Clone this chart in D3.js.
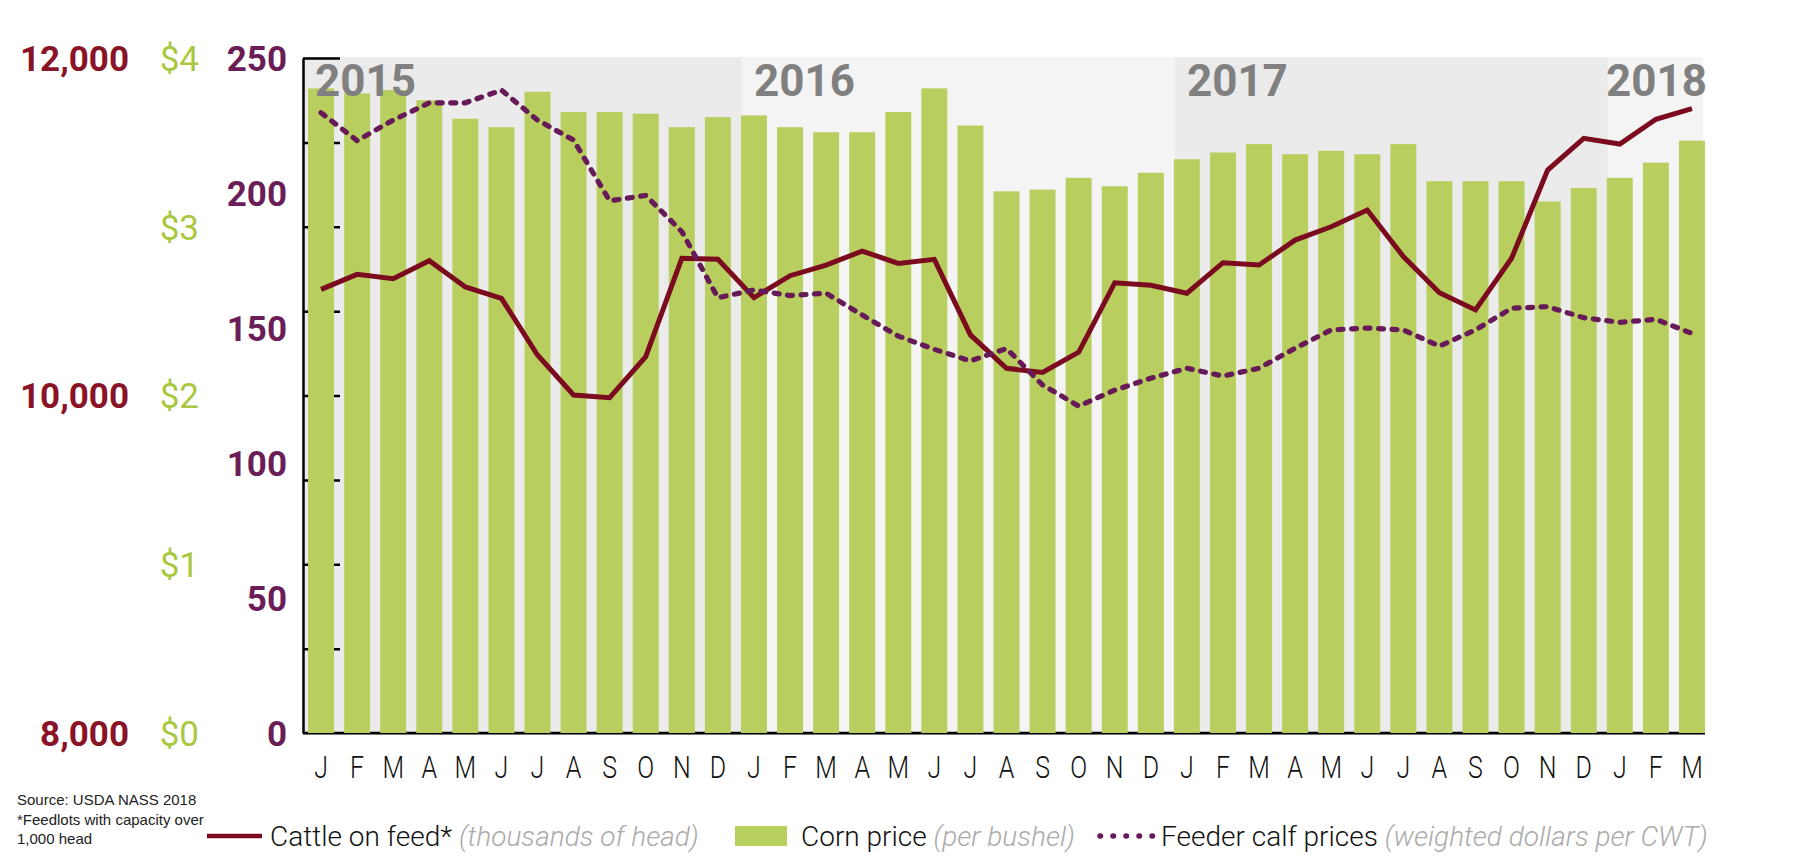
<html>

<head>
    <meta charset="UTF-8">
    <script src="https://d3js.org/d3.v7.min.js"></script>
    <title>Cattle on feed</title>
    <style>
        body { margin: 0; background: white; }
    </style>
</head>

<body>
    <svg id="chart" width="1820" height="865"></svg>

    <script>
        // måneder fra jan 2015 til marts 2018
        const months = ["J","F","M","A","M","J","J","A","S","O","N","D",
                        "J","F","M","A","M","J","J","A","S","O","N","D",
                        "J","F","M","A","M","J","J","A","S","O","N","D",
                        "J","F","M"];
        const years = ["2015", "2016", "2017", "2018"];
        const yearStart = [0, 12, 24, 36];  // index i months

        // majspris, dollar per bushel
        const cornPrice = [3.82, 3.79, 3.81, 3.75, 3.64, 3.59, 3.80, 3.68, 3.68, 3.67, 3.59, 3.65,
                           3.66, 3.59, 3.56, 3.56, 3.68, 3.82, 3.60, 3.21, 3.22, 3.29, 3.24, 3.32,
                           3.40, 3.44, 3.49, 3.43, 3.45, 3.43, 3.49, 3.27, 3.27, 3.27, 3.15, 3.23,
                           3.29, 3.38, 3.51];
        // kvæg på foder, tusinder
        const cattleOnFeed = [10629, 10718, 10692, 10799, 10643, 10576, 10240, 10003, 9987, 10230, 10813, 10807,
                              10580, 10710, 10773, 10856, 10783, 10807, 10359, 10161, 10137, 10256, 10668, 10653,
                              10606, 10787, 10773, 10921, 11000, 11099, 10823, 10609, 10507, 10813, 11336, 11524,
                              11490, 11637, 11700];
        // kalvepriser, dollar per CWT
        const feederCalf = [229.7, 219.4, 227, 233.4, 233.4, 238.1, 227, 219.6, 197.1, 199.1, 185.7, 161.2,
                            164.1, 162, 162.9, 154.8, 147, 142.1, 137.8, 142.4, 128.9, 121.1, 127, 131.4,
                            135.1, 132.2, 135.1, 142.5, 149.3, 150, 149.3, 143.3, 149.3, 157.3, 157.9, 153.8,
                            152.1, 153.2, 148];

        const cattleTicks = [8000, 10000, 12000];
        const cornTicks = [0, 1, 2, 3, 4];
        const feederTicks = [0, 50, 100, 150, 200, 250];

        const colCorn = '#b8cf5f';
        const colCattle = '#7b0c20';
        const colFeeder = '#671a58';

        const plotTop = 57, plotBottom = 733;
        const svg = d3.select('#chart');

        const x = d3.scaleBand()
            .domain(d3.range(months.length))
            .range([303, 1710])
            .paddingInner(0.28)
            .paddingOuter(0.14);

        const yCorn = d3.scaleLinear().domain([0, 4]).range([plotBottom, plotTop + 1]);
        const yCattle = d3.scaleLinear().domain([8000, 12000]).range([plotBottom, plotTop + 1]);
        const yFeeder = d3.scaleLinear().domain([0, 250]).range([plotBottom, plotTop + 1]);

        // baggrund pr. år
        const plotRight = x.range()[1] - 7;
        const yearEdges = yearStart.map(i => x(i) + 1);
        yearEdges[0] = 303;
        svg.append('g').selectAll('rect')
            .data(years)
            .join('rect')
            .attr('x', (d, i) => yearEdges[i])
            .attr('y', plotTop)
            .attr('width', (d, i) => (i < years.length - 1 ? yearEdges[i + 1] : plotRight) - yearEdges[i])
            .attr('height', plotBottom - plotTop)
            .style('fill', (d, i) => i % 2 == 0 ? '#ebebeb' : '#f4f4f4');

        // y-akse med ticks indad
        svg.append('g')
            .attr('transform', 'translate(303,0)')
            .call(d3.axisRight(yCorn).ticks(8).tickSize(37).tickSizeOuter(0).tickFormat(''))
            .call(g => g.selectAll('line').style('stroke', '#000').style('stroke-width', 2.5))
            .call(g => g.select('.domain').style('stroke', '#000').style('stroke-width', 2.5));

        svg.append('line')
            .attr('x1', 303).attr('x2', x(months.length - 1) + x.bandwidth())
            .attr('y1', plotBottom).attr('y2', plotBottom)
            .style('stroke', '#000').style('stroke-width', 2.5);

        // søjler for majspris
        svg.append('g').selectAll('rect')
            .data(cornPrice)
            .join('rect')
            .attr('x', (d, i) => x(i))
            .attr('y', d => yCorn(d))
            .attr('width', x.bandwidth())
            .attr('height', d => plotBottom - yCorn(d))
            .style('fill', colCorn);

        svg.append('line')
            .attr('x1', 303).attr('x2', x(months.length - 1) + x.bandwidth())
            .attr('y1', plotBottom + 1.5).attr('y2', plotBottom + 1.5)
            .style('stroke', '#777').style('stroke-width', 1);

        // årstal
        svg.append('g').selectAll('text')
            .data(years)
            .join('text')
            .text(d => d)
            .attr('y', 96)
            .style('font-family', 'Roboto, sans-serif')
            .style('font-weight', 'bold')
            .style('font-size', '44px')
            .style('fill', '#808080')
            .each(function (d, i) {
                const w = this.getComputedTextLength();
                this.setAttribute('x', Math.min(yearEdges[i] + 12, x(months.length - 1) + x.bandwidth() + 2 - w));
            });

        // linjer
        const cattleLine = d3.line()
            .x((d, i) => x(i) + x.bandwidth() / 2)
            .y(d => yCattle(d));
        const feederLine = d3.line()
            .x((d, i) => x(i) + x.bandwidth() / 2)
            .y(d => yFeeder(d));

        svg.append('path')
            .datum(cattleOnFeed)
            .attr('d', cattleLine)
            .style('fill', 'none')
            .style('stroke', colCattle)
            .style('stroke-width', 5)
            .style('stroke-linejoin', 'miter');

        svg.append('path')
            .datum(feederCalf)
            .attr('d', feederLine)
            .style('fill', 'none')
            .style('stroke', colFeeder)
            .style('stroke-width', 5.2)
            .style('stroke-linecap', 'round')
            .style('stroke-dasharray', '5 8.5');

        // akse-etiketter
        function labelAxis(scale, values, fmt, xPos, color, weight) {
            svg.append('g')
                .attr('transform', 'translate(' + xPos + ',0)')
                .call(d3.axisLeft(scale).tickValues(values).tickFormat(fmt).tickSize(0).tickPadding(0))
                .call(g => g.select('.domain').remove())
                .selectAll('text')
                .attr('dy', '0.35em')
                .style('font-family', 'Roboto, sans-serif')
                .style('font-weight', weight)
                .style('font-size', '35px')
                .style('fill', color);
        }
        labelAxis(yCattle, cattleTicks, d3.format(','), 129, '#8a1427', 'bold');
        labelAxis(yCorn, cornTicks, d => '$' + d, 199, '#a9c83f', 'normal');
        labelAxis(yFeeder, feederTicks, d => d, 287, '#6b1d57', 'bold');

        // måneder (smal, tynd skrift)
        svg.append('g').selectAll('text')
            .data(months)
            .join('text')
            .text(d => d)
            .attr('transform', (d, i) => 'translate(' + (x(i) + x.bandwidth() / 2) + ',778) scale(0.78,1)')
            .attr('text-anchor', 'middle')
            .style('font-family', 'Roboto, sans-serif')
            .style('font-weight', 300)
            .style('font-size', '32px')
            .style('fill', '#111');

        // kilde
        const noter = ['Source: USDA NASS 2018', '*Feedlots with capacity over', '1,000 head'];
        svg.append('g').selectAll('text')
            .data(noter)
            .join('text')
            .text(d => d)
            .attr('x', 17)
            .attr('y', (d, i) => 805 + i * 19.5)
            .style('font-family', '"Liberation Sans", Arial, sans-serif')
            .style('font-size', '15px')
            .style('fill', '#222');

        // forklaring
        const legendY = 836;
        const lg = svg.append('g').style('font-family', 'Roboto, sans-serif').style('font-size', '28px').style('font-weight', 300);

        lg.append('line').attr('x1', 207).attr('x2', 262).attr('y1', legendY).attr('y2', legendY)
            .style('stroke', colCattle).style('stroke-width', 4.5);
        let t = lg.append('text').attr('x', 270).attr('y', legendY + 10);
        t.append('tspan').text('Cattle on feed* ').style('fill', '#111');
        t.append('tspan').text('(thousands of head)').style('fill', '#aaa').style('font-style', 'italic');

        lg.append('rect').attr('x', 735).attr('y', legendY - 10).attr('width', 52).attr('height', 20)
            .style('fill', colCorn);
        t = lg.append('text').attr('x', 801).attr('y', legendY + 10);
        t.append('tspan').text('Corn price ').style('fill', '#111');
        t.append('tspan').text('(per bushel)').style('fill', '#aaa').style('font-style', 'italic');

        lg.append('line').attr('x1', 1100).attr('x2', 1154).attr('y1', legendY).attr('y2', legendY)
            .style('stroke', colFeeder).style('stroke-width', 5.5)
            .style('stroke-linecap', 'round').style('stroke-dasharray', '0.5 12.5');
        t = lg.append('text').attr('x', 1161).attr('y', legendY + 10);
        t.append('tspan').text('Feeder calf prices ').style('fill', '#111');
        t.append('tspan').text('(weighted dollars per CWT)').style('fill', '#aaa').style('font-style', 'italic');
    </script>
</body>

</html>
